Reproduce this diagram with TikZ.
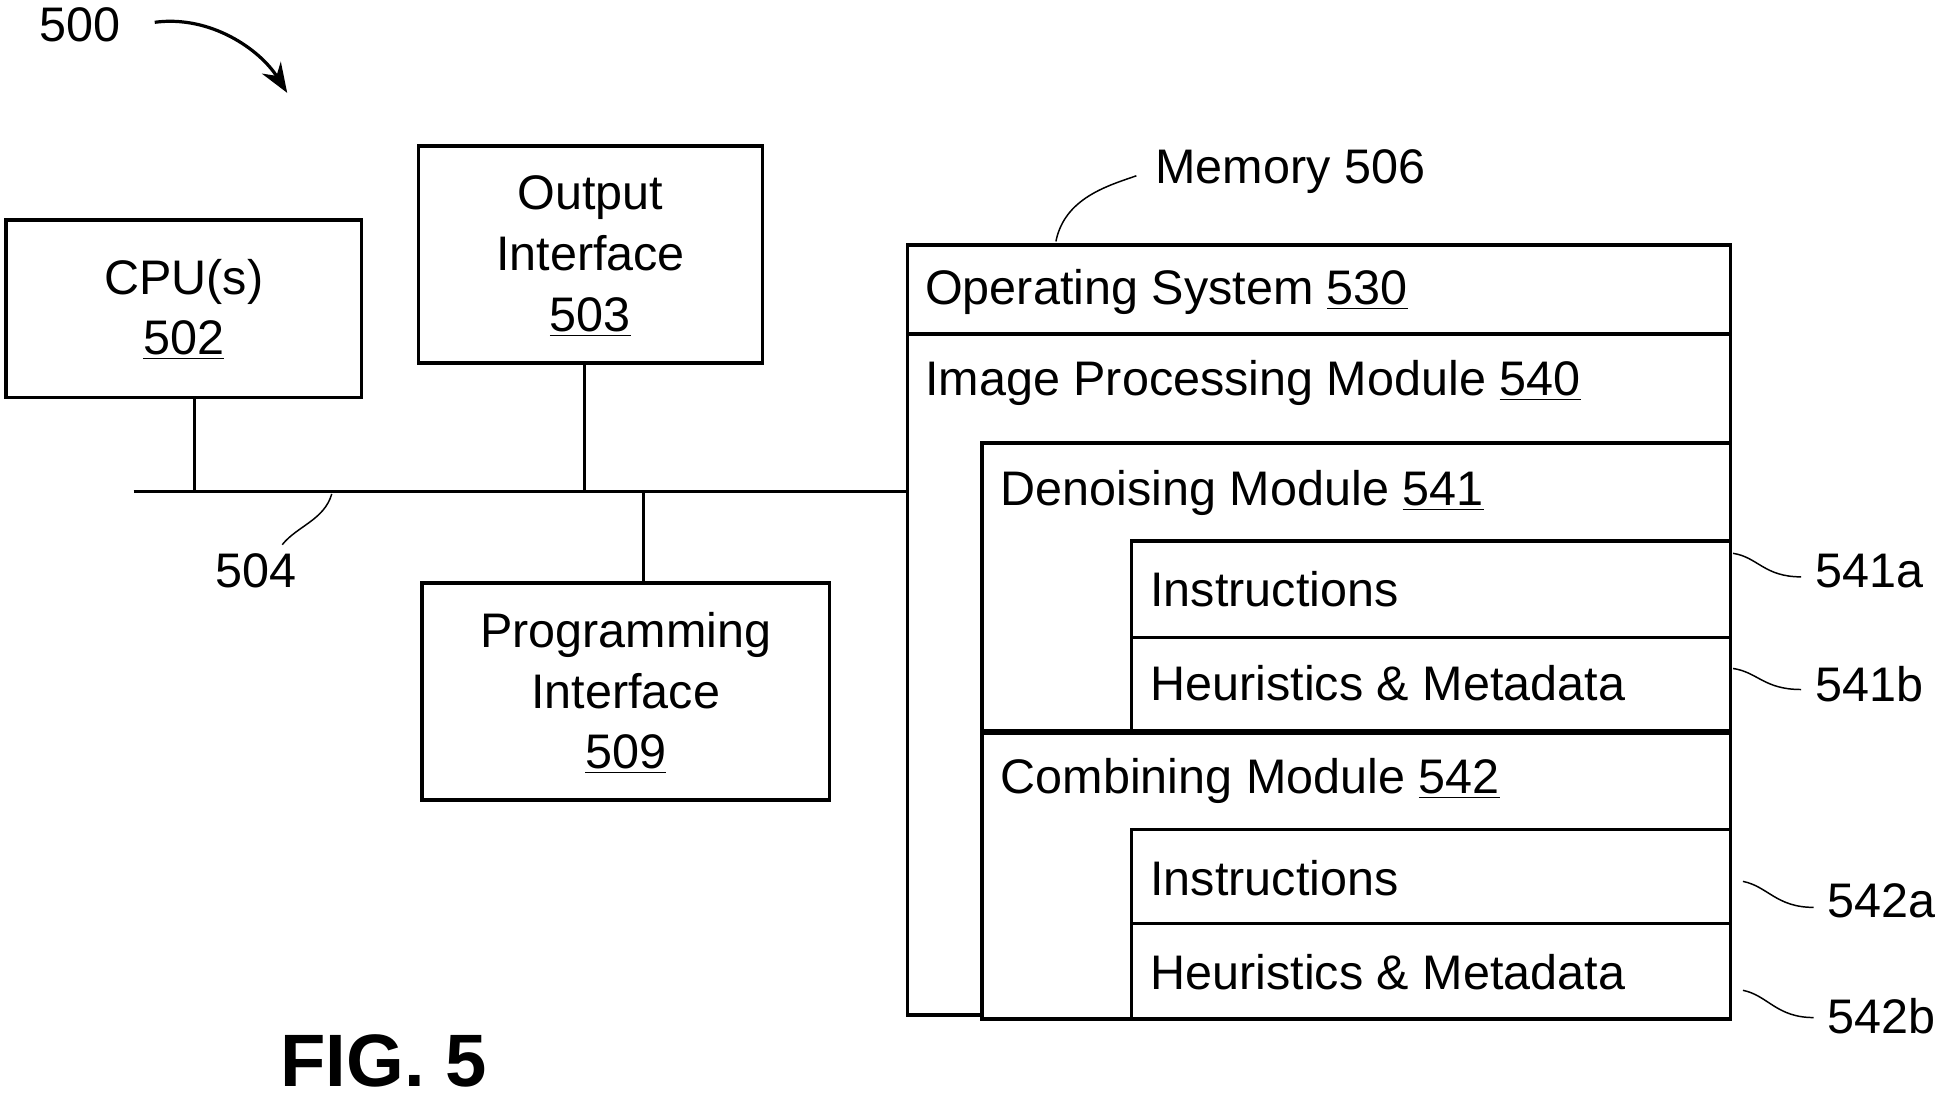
\documentclass[tikz,border=0pt]{standalone}
\usepackage{fontspec}
\usetikzlibrary{arrows.meta}
\setmainfont{Liberation Sans}
\begin{document}
\begin{tikzpicture}[x=0.5pt,y=-0.5pt,
  box/.style={draw,line width=1.5pt},
  txt/.style={font=\fontsize{19.6}{23.5}\selectfont,inner sep=0pt},
  ctxt/.style={txt,align=center},
  ln/.style={line width=1.3pt},
  lead/.style={line width=0.6pt}]
\useasboundingbox (0,0) rectangle (1568,890);
% boxes
\draw[box] (5,178) rectangle (292,321);
\node[ctxt] (cpu) at (148.5,250) {CPU(s)\\[1pt]\underline{502}};
\draw[box] (338,118) rectangle (616,293);
\node[ctxt] (out) at (477,207) {Output\\[1pt]Interface\\[1pt]\underline{503}};
\draw[box] (341,471) rectangle (670,646);
\node[ctxt] (prog) at (505.5,560) {Programming\\[1pt]Interface\\[1pt]\underline{509}};
% bus
\coordinate (b0) at (108,397); \coordinate (b1) at (733,397);
\coordinate (c0) at (157,321); \coordinate (c1) at (157,397);
\coordinate (o0) at (472,293); \coordinate (o1) at (472,397);
\coordinate (p0) at (520,397); \coordinate (p1) at (520,471);
\draw[ln] (b0) -- (b1); \draw[ln] (c0) -- (c1); \draw[ln] (o0) -- (o1); \draw[ln] (p0) -- (p1);
\node[txt] (l504) at (207,461) {504};
\draw[lead] (268,399) .. controls (262,420) and (240,425) .. (228,440);
% memory
\draw[box] (733,198) rectangle (1398,820);
\draw[box] (733,270) -- (1398,270);
\node[txt,anchor=west] (os) at (747,236) {Operating System \underline{530}};
\node[txt,anchor=west] (ipm) at (747,309) {Image Processing Module \underline{540}};
\draw[box,fill=white] (793,358) rectangle (1398,590);
\node[txt,anchor=west] (den) at (808,398) {Denoising Module \underline{541}};
\draw[box] (914,437) rectangle (1398,515);
\draw[box] (914,515) rectangle (1398,590);
\node[txt,anchor=west] (i1) at (929,476) {Instructions};
\node[txt,anchor=west] (h1) at (929,552) {Heuristics \& Metadata};
\draw[box,fill=white] (793,592) rectangle (1398,823);
\node[txt,anchor=west] (com) at (808,631) {Combining Module \underline{542}};
\draw[box] (914,670) rectangle (1398,746);
\draw[box] (914,746) rectangle (1398,823);
\node[txt,anchor=west] (i2) at (929,709) {Instructions};
\node[txt,anchor=west] (h2) at (929,785) {Heuristics \& Metadata};
% labels
\node[txt,anchor=west] (m506) at (933,139) {Memory 506};
\draw[lead] (853,195) .. controls (860,160) and (895,150) .. (918,142);
\node[txt,anchor=west] (a1) at (1466,461) {541a};
\draw[lead] (1400,447) .. controls (1420,450) and (1425,466) .. (1455,466);
\node[txt,anchor=west] (b1l) at (1466,553) {541b};
\draw[lead] (1400,540) .. controls (1420,543) and (1425,557) .. (1455,557);
\node[txt,anchor=west] (a2) at (1476,728) {542a};
\draw[lead] (1408,712) .. controls (1428,716) and (1435,733) .. (1465,733);
\node[txt,anchor=west] (b2) at (1476,821) {542b};
\draw[lead] (1408,800) .. controls (1428,804) and (1435,822) .. (1465,822);
% 500
\node[txt] (l500) at (65,20) {500};
\draw[lead,line width=1.3pt,-{Stealth[length=12pt,width=9pt]}] (125,18) .. controls (170,12) and (210,40) .. (232,75);
\node[font=\fontsize{30}{34}\selectfont\bfseries,inner sep=0pt] (fig) at (310,857) {FIG. 5};
\end{tikzpicture}
\end{document}
